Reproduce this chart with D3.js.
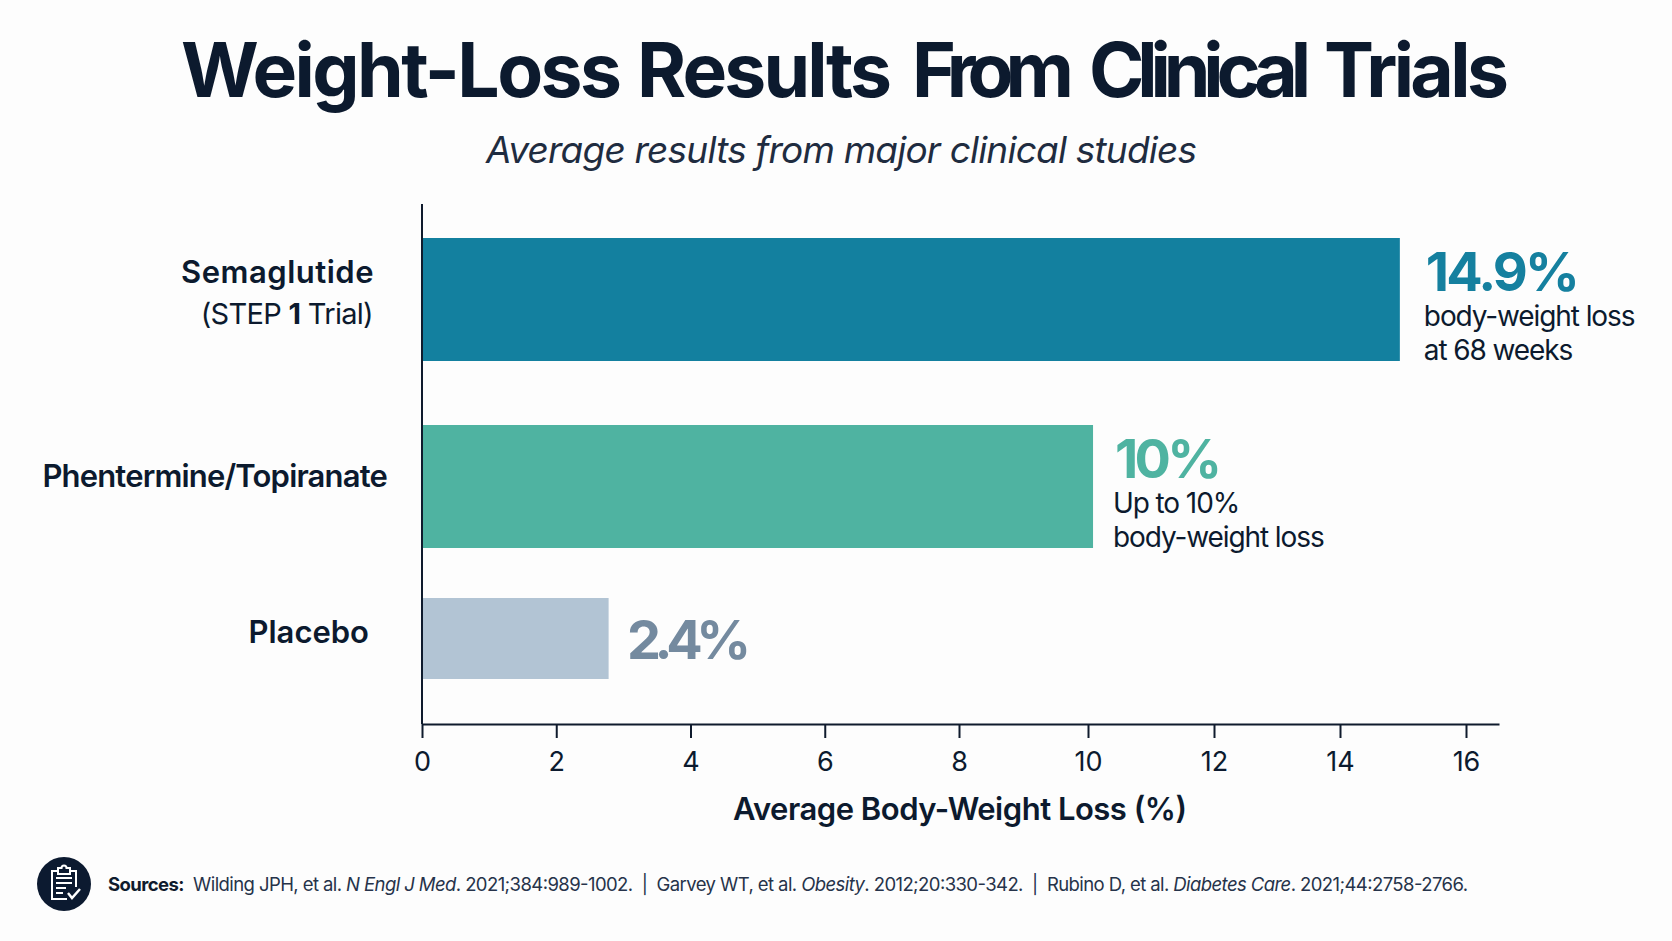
<!DOCTYPE html>
<html>
<head>
<meta charset="utf-8">
<script src="https://cdn.jsdelivr.net/npm/d3@7"></script>
<style>
  html, body { margin: 0; padding: 0; background: #fdfdfd; }
  svg { display: block; }
  text { font-family: Inter, "Noto Sans", sans-serif; fill: #0c1a2e; }
</style>
</head>
<body>
<script>
const categories = ["Semaglutide", "Phentermine/Topiranate", "Placebo"];
// bar lengths as drawn in the picture, the printed labels differ a little
const barValues = [14.95, 10.08, 2.78];
const valueLabels = ["14.9%", "10%", "2.4%"];
const noteLines = [["body-weight loss", "at 68 weeks"], ["Up to 10%", "body-weight loss"], []];
const xTicks = [0, 2, 4, 6, 8, 10, 12, 14, 16];
const titleWords = ["Weight-Loss", "Results", "From", "Clinical", "Trials"];
const barColors = ["#13809f", "#4fb3a1", "#b2c4d4"];
const valueColors = ["#15809f", "#4fb3a1", "#748a9f"];

const width = 1672, height = 941;
const baseline = 724;

const svg = d3.select("body").append("svg")
    .attr("width", width)
    .attr("height", height)
    .attr("viewBox", [0, 0, width, height]);

// the axis in the picture is not evenly spaced, 8 to 16 is tighter than 0 to 8
const x = d3.scaleLinear()
    .domain([0, 8, 10, 16, 16.53])
    .range([422, 959, 1088, 1466, 1499]);

// bars are not evenly spaced or equally thick either
const barTop = d3.scaleOrdinal().domain(categories).range([238, 425, 598]);
const barBottom = d3.scaleOrdinal().domain(categories).range([361, 548, 679]);

/**
 * TITLES
 */
// word gaps in the title are uneven, so each word gets its own start and length
const wordStarts = [181, 637, 912, 1089, 1324];
const wordLengths = [441, 255, 162, 222, 185];
svg.append("text")
    .attr("y", 97)
    .style("font-size", "75px")
    .style("font-weight", 700)
    .selectAll("tspan")
    .data(titleWords)
    .join("tspan")
    .attr("x", (d, i) => wordStarts[i])
    .attr("textLength", (d, i) => wordLengths[i])
    .text(d => d);

svg.append("text")
    .attr("x", 486).attr("y", 163)
    .attr("textLength", 711)
    .style("font-size", "37px")
    .style("font-style", "italic")
    .style("font-weight", 400)
    .style("fill", "#1f2c40")
    .text("Average results from major clinical studies");

/**
 * BARS
 */
svg.selectAll("rect.bar")
    .data(categories)
    .join("rect")
    .attr("class", "bar")
    .attr("x", x(0))
    .attr("y", d => barTop(d))
    .attr("width", (d, i) => x(barValues[i]) - x(0))
    .attr("height", d => barBottom(d) - barTop(d))
    .attr("fill", (d, i) => barColors[i]);

/**
 * AXES
 */
svg.append("line")
    .attr("x1", x(0)).attr("x2", x(0))
    .attr("y1", 204).attr("y2", baseline)
    .attr("stroke", "#0f1b2d")
    .attr("stroke-width", 2);

let xAxis = svg.append("g")
    .attr("transform", `translate(0,${baseline})`)
    .call(d3.axisBottom(x).tickValues(xTicks).tickFormat(d3.format("d")).tickSize(14).tickSizeOuter(0).tickPadding(14));
xAxis.select(".domain").attr("stroke", "#0f1b2d").attr("stroke-width", 2);
xAxis.selectAll(".tick line").attr("stroke", "#0f1b2d").attr("stroke-width", 2);
xAxis.selectAll(".tick text")
    .style("font-size", "27px")
    .style("font-family", "Inter");

svg.append("text")
    .attr("x", 960).attr("y", 820)
    .attr("text-anchor", "middle")
    .attr("textLength", 454)
    .style("font-size", "31px")
    .style("font-weight", 600)
    .text("Average Body-Weight Loss (%)");

/**
 * CATEGORY LABELS
 */
const labelEnds = [374, 387, 369];
const labelBase = [283, 487, 643];
const labelSpacing = [0.5, -0.83, 0];
svg.selectAll("text.cat")
    .data(categories)
    .join("text")
    .attr("class", "cat")
    .attr("x", (d, i) => labelEnds[i])
    .attr("y", (d, i) => labelBase[i])
    .attr("text-anchor", "end")
    .style("font-size", "31px")
    .style("font-weight", 600)
    .style("letter-spacing", (d, i) => labelSpacing[i] + "px")
    .text(d => d);

let trial = svg.append("text")
    .attr("x", 373).attr("y", 324)
    .attr("text-anchor", "end")
    .style("font-size", "29px")
    .style("letter-spacing", "-0.7px");
trial.append("tspan").text("(STEP ");
trial.append("tspan").style("font-weight", 700).text("1");
trial.append("tspan").text(" Trial)");

/**
 * VALUE LABELS
 */
const valueGaps = [26, 22, 18.5];
const valueSpacing = [-2.8, -3.8, -6.5];
svg.selectAll("text.value")
    .data(categories)
    .join("text")
    .attr("class", "value")
    .attr("x", (d, i) => x(barValues[i]) + valueGaps[i])
    .attr("y", d => barTop(d) + 53 + (d == "Placebo" ? 8 : 0))
    .style("font-size", "54px")
    .style("font-weight", 700)
    .style("letter-spacing", (d, i) => valueSpacing[i] + "px")
    .style("fill", (d, i) => valueColors[i])
    .text((d, i) => valueLabels[i]);

categories.forEach((c, i) => {
    noteLines[i].forEach((line, j) => {
        svg.append("text")
            .attr("x", x(barValues[i]) + (i == 0 ? 24 : 20))
            .attr("y", barTop(c) + 88 + j * 34)
            .style("font-size", "28px")
            .style("letter-spacing", "-1.1px")
            .text(line);
    });
});

/**
 * SOURCES
 */
const iconG = svg.append("g").attr("transform", "translate(64,884)");
iconG.append("circle").attr("r", 27).attr("fill", "#0c1a30");
iconG.append("path")
    .attr("d", "M-6,-13H-12V15H3M6,-13H12V3M-6,-12V-16H-2.5A2.5,2.5 0 0 1 2.5,-16H6V-10H-6ZM-8,-6H8M-8,-1H8M-8,4H2M-8,9H-1")
    .attr("fill", "none")
    .attr("stroke", "#fff")
    .attr("stroke-width", 2);
iconG.append("path")
    .attr("d", "M4,9L8,14L16,5")
    .attr("fill", "none")
    .attr("stroke", "#fff")
    .attr("stroke-width", 2.5);

const sourceParts = [
    ["Sources:", "bold"], ["  Wilding JPH, et al. "], ["N Engl J Med", "italic"], [". 2021;384:989-1002.  |  Garvey WT, et al. "],
    ["Obesity", "italic"], [". 2012;20:330-342.  |  Rubino D, et al. "], ["Diabetes Care", "italic"], [". 2021;44:2758-2766."]
];
svg.append("text")
    .attr("x", 108).attr("y", 890.5)
    .attr("textLength", 1360)
    .attr("xml:space", "preserve")
    .style("font-size", "18.5px")
    .style("fill", "#26334a")
    .style("white-space", "pre")
    .selectAll("tspan")
    .data(sourceParts)
    .join("tspan")
    .style("font-weight", d => d[1] == "bold" ? 700 : 400)
    .style("font-style", d => d[1] == "italic" ? "italic" : "normal")
    .style("fill", d => d[1] == "bold" ? "#0f1b2d" : null)
    .text(d => d[0]);
</script>
</body>
</html>
